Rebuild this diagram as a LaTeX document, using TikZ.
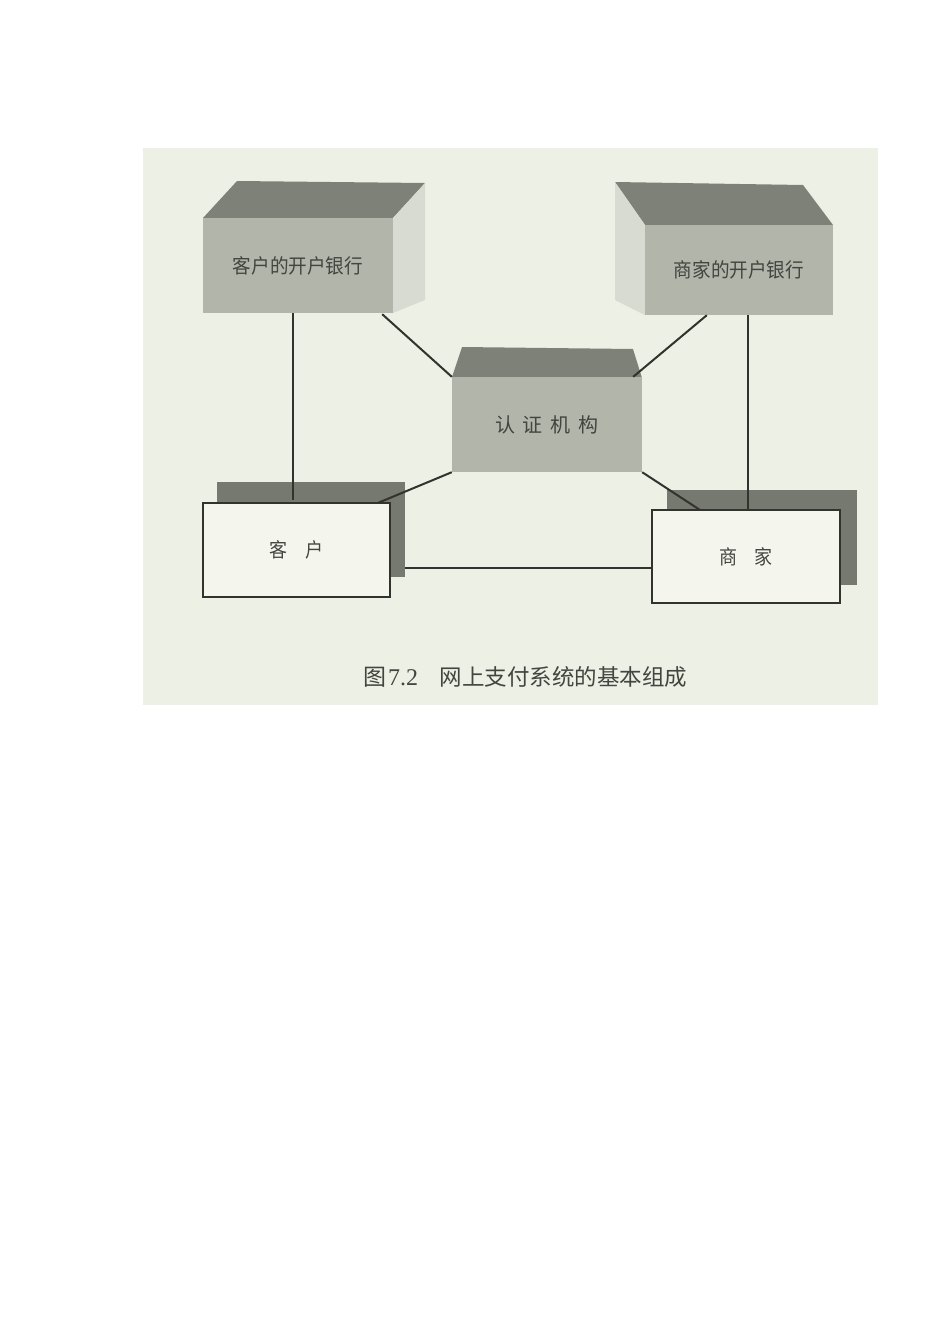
\documentclass[tikz,border=0pt]{standalone}
\usepackage{fontspec}
\newfontfamily\cjk{Noto Sans CJK SC}
\newfontfamily\lat{Liberation Serif}
\usetikzlibrary{calc}
\definecolor{bgc}{RGB}{236,240,229}
\definecolor{frontc}{RGB}{178,181,170}
\definecolor{topc}{RGB}{126,129,120}
\definecolor{sidec}{RGB}{216,219,209}
\definecolor{shadc}{RGB}{118,121,112}
\definecolor{paperc}{RGB}{244,246,238}
\definecolor{inkc}{RGB}{50,51,47}
\definecolor{txtc}{RGB}{68,68,64}
\tikzset{
  front/.style={fill=frontc, draw=none, inner sep=0pt, text=txtc, font=\cjk\fontsize{20}{24}\selectfont},
  topface/.style={fill=topc, draw=none},
  sideface/.style={fill=sidec, draw=none},
  shadowbox/.style={fill=shadc, draw=none, inner sep=0pt},
  paperbox/.style={fill=paperc, draw=inkc, line width=1.8pt, inner sep=0pt, text=txtc, font=\cjk\fontsize{20}{24}\selectfont},
  link/.style={draw=inkc, line width=2pt},
}
\begin{document}
\begin{tikzpicture}[x=1pt,y=-1pt]
\useasboundingbox (0,0) rectangle (950,1344);
\fill[white] (0,0) rectangle (950,1344);
\fill[bgc] (143,148) rectangle (878,705);

% left bank box
\fill[topface] (203,218) -- (237,181) -- (425,183) -- (393,218) -- cycle;
\fill[sideface] (393,218) -- (425,183) -- (425,300) -- (393,313) -- cycle;
\node[front, minimum width=190pt, minimum height=95pt] (lb) at (298,265.5) {\scalebox{0.93}[1]{客户的开户银行}};

% right bank box
\fill[topface] (645,225) -- (615,182) -- (803,185) -- (833,225) -- cycle;
\fill[sideface] (615,182) -- (645,225) -- (645,315) -- (615,300) -- cycle;
\node[front, minimum width=188pt, minimum height=90pt] (rb) at (739,270) {\scalebox{0.93}[1]{商家的开户银行}};

% certificate authority box
\fill[topface] (452,377) -- (462,347) -- (633,349) -- (642,378) -- cycle;
\node[front, minimum width=190pt, minimum height=95pt] (ca) at (547,424.5) {认\hspace{0.4em}证\hspace{0.4em}机\hspace{0.4em}构};

% shadows of customer and merchant
\node[shadowbox, minimum width=188pt, minimum height=95pt] (cush) at (311,529.5) {};
\node[shadowbox, minimum width=190pt, minimum height=95pt] (mesh) at (762,537.5) {};

% connectors
\draw[link] ($(lb.south)+(-5,0)$) -- ($(lb.south)+(-5,187)$);
\draw[link] ($(lb.south east)+(-11,1)$) -- (ca.north west);
\draw[link] ($(rb.south west)+(62,0)$) -- ($(ca.north east)+(-9,0)$);
\draw[link] ($(rb.south)+(9,0)$) -- ($(rb.south)+(9,195)$);
\draw[link] (ca.south west) -- ($(cush.north east)+(-27,21)$);
\draw[link] (ca.south east) -- ($(mesh.north west)+(36,22)$);
\draw[link] ($(cush.east)+(0,38)$) -- ($(mesh.west)+(-15,30)$);

% customer and merchant
\node[paperbox, minimum width=187pt, minimum height=94pt] (cu) at (296.5,550) {\scalebox{0.9}[1]{客\hspace{0.95em}户}};
\node[paperbox, minimum width=188pt, minimum height=93pt] (me) at (746,556.5) {\scalebox{0.9}[1]{商\hspace{0.95em}家}};

% caption
\node[text=txtc, inner sep=0pt, anchor=west] (cap) at (363,677) {\cjk\fontsize{23}{28}\selectfont 图\hspace{0.08em}{\lat\fontsize{24}{28}\selectfont 7.2}\hspace{0.95em}\fontsize{22.5}{28}\selectfont 网上支付系统的基本组成};
\end{tikzpicture}
\end{document}
